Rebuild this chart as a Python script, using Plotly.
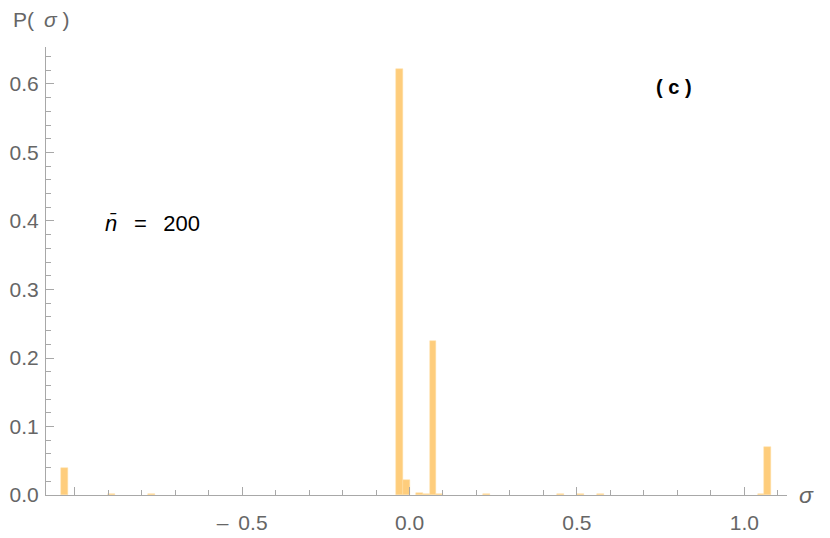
import plotly.graph_objects as go

# histogram bins (left edge of each 0.02-wide bin) and probabilities
bin_left = [-1.04, -0.90, -0.78, -0.04, -0.02, 0.02, 0.04, 0.06, 0.08,
            0.22, 0.44, 0.50, 0.56, 1.04, 1.06]
prob = [0.039, 0.0015, 0.001, 0.622, 0.022, 0.0025, 0.0015, 0.225, 0.001,
        0.001, 0.001, 0.001, 0.001, 0.002, 0.0705]
bin_width = 0.02

x_tickvals = [-1.0, -0.5, 0.0, 0.5, 1.0]
x_ticktext = ['', '\u2013\u2009 0.5', '0.0', '0.5', '1.0']
y_tickvals = [0.0, 0.1, 0.2, 0.3, 0.4, 0.5, 0.6]
y_ticktext = ['0.0', '0.1', '0.2', '0.3', '0.4', '0.5', '0.6']

font = 'Liberation Sans, Arial, sans-serif'
gray = '#666666'
axis_col = '#a8a8a8'

fig = go.Figure(go.Bar(
    x=bin_left, y=prob, width=bin_width, offset=0,
    marker=dict(color='rgb(254,205,124)', line=dict(width=0.5, color='rgb(255,222,165)')),
))

# the page body adds an 8px offset, so the figure is sized to fit the window
fig.update_layout(
    width=822, height=530,
    margin=dict(l=38, r=43, t=39, b=43, autoexpand=False),
    plot_bgcolor='white', paper_bgcolor='white',
    showlegend=False, bargap=0,
    font=dict(family=font, color=gray, size=20),
)

fig.update_xaxes(
    range=[-1.0857, 1.1275], automargin=False,
    tickvals=x_tickvals, ticktext=x_ticktext,
    ticks='inside', ticklen=8, tickcolor=axis_col, tickwidth=1,
    minor=dict(dtick=0.1, tick0=0, ticks='inside', ticklen=5, tickcolor=axis_col),
    showline=True, linecolor=axis_col, linewidth=1,
    showgrid=False, zeroline=False,
    tickfont=dict(size=21, color=gray), ticklabelstandoff=9,
)
fig.update_yaxes(
    range=[0, 0.654], automargin=False,
    tickvals=y_tickvals, ticktext=y_ticktext,
    ticks='inside', ticklen=8, tickcolor=axis_col, tickwidth=1,
    minor=dict(dtick=0.02, tick0=0, ticks='inside', ticklen=5, tickcolor=axis_col),
    showline=True, linecolor=axis_col, linewidth=1,
    showgrid=False, zeroline=False,
    tickfont=dict(size=21, color=gray), ticklabelstandoff=2,
)

# axis labels and annotations
fig.add_annotation(xref='paper', yref='paper', x=-0.047, y=1.062, xanchor='left', yanchor='middle',
                   text='P(\u2009 <i>\u03c3</i> )', showarrow=False, font=dict(size=21, color=gray))
fig.add_annotation(xref='paper', yref='paper', x=1.013, y=0.0, xanchor='left', yanchor='middle',
                   text='<i>\u03c3</i>', showarrow=False, font=dict(size=23, color=gray))
fig.add_annotation(x=-0.915, y=0.397, xanchor='left', yanchor='middle',
                   text='<i>n\u0304</i>\u2009  =  \u2009200', showarrow=False, font=dict(size=22, color='black'))
fig.add_annotation(x=0.73, y=0.595, xanchor='left', yanchor='middle',
                   text='<b>( c )</b>', showarrow=False, font=dict(size=20, color='black'))

fig.write_html('out.html')
